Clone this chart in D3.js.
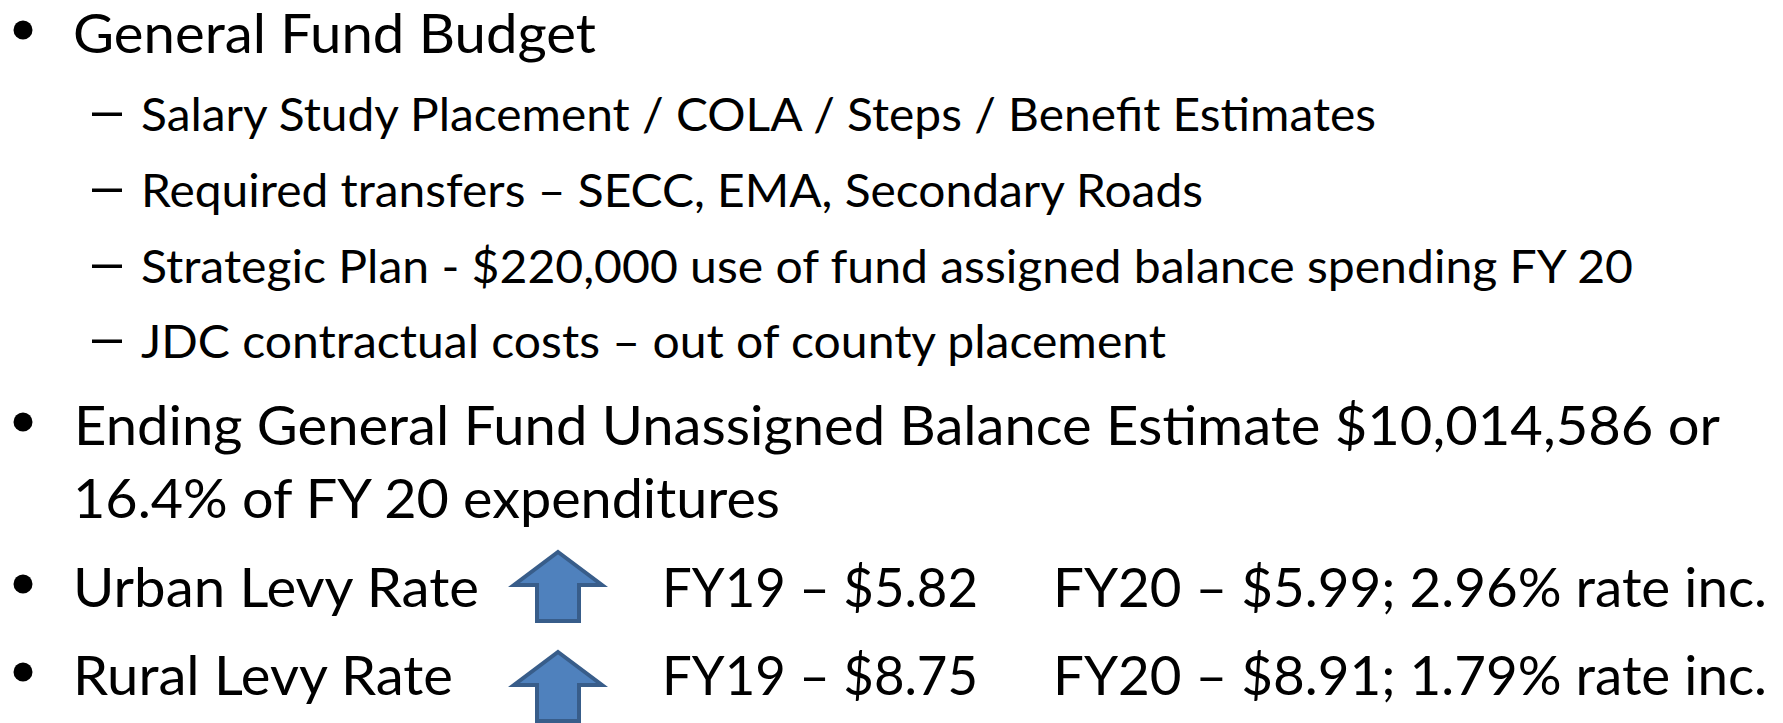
<!DOCTYPE html>
<html>
<head>
<meta charset="utf-8">
<script src="https://cdn.jsdelivr.net/npm/d3@7"></script>
<style>
  html, body { margin: 0; padding: 0; background: #ffffff; }
  svg { display: block; }
</style>
</head>
<body>
<script>
// ---- data ----
const headline = "General Fund Budget";
const subItems = [
  "Salary Study Placement / COLA / Steps / Benefit Estimates",
  "Required transfers \u2013 SECC, EMA, Secondary Roads",
  "Strategic Plan - $220,000 use of fund assigned balance spending FY 20",
  "JDC contractual costs \u2013 out of county placement"
];
const balanceLines = [
  "Ending General Fund Unassigned Balance Estimate $10,014,586 or",
  "16.4% of FY 20 expenditures"
];
const levyLabels = ["Urban Levy Rate", "Rural Levy Rate"];
const fy19Rates = ["$5.82", "$8.75"];
const fy20Rates = ["$5.99", "$8.91"];
const rateIncreases = ["2.96%", "1.79%"];

// ---- layout ----
const W = 1783, H = 723;
const FONT = "Lato, 'Open Sans', sans-serif";
const svg = d3.select("body").append("svg").attr("width", W).attr("height", H);

// each line: text, x, baseline, size, ink width (target), marker
const lines = [];
lines.push({ t: headline, x: 73, y: 53, s: 55, w: 523, m: "bullet" });
const subY = [131, 207, 283, 358];
const subW = [1235, 1062, 1492, 1025];
subItems.forEach((t, i) => lines.push({ t, x: 141, y: subY[i], s: 46, w: subW[i], m: "dash" }));
lines.push({ t: balanceLines[0], x: 74, y: 445, s: 55, w: 1646, m: "bullet" });
lines.push({ t: balanceLines[1], x: 73, y: 518, s: 55, w: 707, m: null });

const levyY = [607, 695];
const levyW = [406, 380];
levyLabels.forEach((t, i) => {
  lines.push({ t, x: 73, y: levyY[i], s: 55, w: levyW[i], m: "bullet" });
  lines.push({ t: "FY19 \u2013 " + fy19Rates[i], x: 662, y: levyY[i], s: 55, w: 316, m: null });
  lines.push({ t: "FY20 \u2013 " + fy20Rates[i] + "; " + rateIncreases[i] + " rate inc.", x: 1053, y: levyY[i], s: 55, w: 714, m: null });
});

const g = svg.append("g");
g.selectAll("text.line").data(lines).join("text")
  .attr("class", "line")
  .attr("x", d => d.x)
  .attr("y", d => d.y)
  .attr("font-family", FONT)
  .attr("font-size", d => d.s)
  .attr("fill", "#000")
  .attr("textLength", d => d.w)
  .attr("lengthAdjust", "spacingAndGlyphs")
  .text(d => d.t);

// bullets
g.selectAll("circle.bullet").data(lines.filter(d => d.m === "bullet")).join("circle")
  .attr("class", "bullet")
  .attr("cx", 23)
  .attr("cy", d => d.y - 23)
  .attr("r", 9.5)
  .attr("fill", "#000");

// dashes
g.selectAll("rect.dash").data(lines.filter(d => d.m === "dash")).join("rect")
  .attr("class", "dash")
  .attr("x", 92)
  .attr("y", d => d.y - 18.5)
  .attr("width", 30)
  .attr("height", 3.5)
  .attr("fill", "#000");

// up arrows
const arrowTop = [552, 652];
const arrowPath = (top) => {
  const cx = 558;
  return d3.line()([
    [cx, top], [cx + 44, top + 33], [cx + 21, top + 33], [cx + 21, top + 69],
    [cx - 21, top + 69], [cx - 21, top + 33], [cx - 44, top + 33]
  ]) + "Z";
};
g.selectAll("path.arrow").data(arrowTop).join("path")
  .attr("class", "arrow")
  .attr("d", d => arrowPath(d))
  .attr("fill", "#4F81BD")
  .attr("stroke", "#385D8A")
  .attr("stroke-width", 4)
  .attr("stroke-linejoin", "miter");
</script>
</body>
</html>
